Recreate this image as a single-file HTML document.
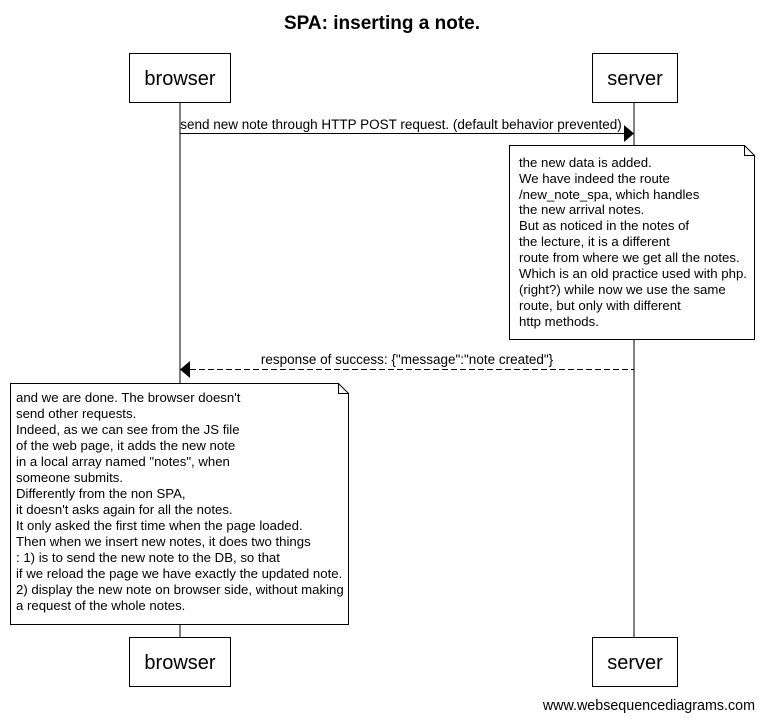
<!DOCTYPE html>
<html><head><style>body{margin:0;background:#fff}svg{display:block}text{font-family:"Liberation Sans",Arial,sans-serif;fill:#000}</style></head>
<body>
<svg width="764" height="720" viewBox="0 0 764 720" xmlns="http://www.w3.org/2000/svg">
<text x="382" y="29" font-size="19" font-weight="bold" text-anchor="middle">SPA: inserting a note.</text>
<line x1="180" y1="102" x2="180" y2="637" stroke="#000"/>
<line x1="634" y1="102" x2="634" y2="637" stroke="#000"/>
<g fill="#fff" stroke="#000">
<rect x="129.5" y="53.5" width="101" height="49"/>
<rect x="592.5" y="53.5" width="85" height="49"/>
<rect x="129.5" y="637.5" width="101" height="49"/>
<rect x="592.5" y="637.5" width="85" height="49"/>
</g>
<g font-size="20" text-anchor="middle">
<text x="180" y="85">browser</text><text x="635" y="85">server</text>
<text x="180" y="669">browser</text><text x="635" y="669">server</text>
</g>
<line x1="180" y1="133.5" x2="624" y2="133.5" stroke="#000"/>
<polygon points="624,125 634,133.5 624,142" fill="#000"/>
<text x="401" y="129" font-size="13.5" text-anchor="middle">send new note through HTTP POST request. (default behavior prevented)</text>
<path d="M509.5 145.5 H744.5 L754.5 155.5 V339.5 H509.5 Z" fill="#fff" stroke="#000"/>
<path d="M744.5 145.5 V155.5 H754.5" fill="none" stroke="#000"/>
<g font-size="13.2">
<text x="519" y="167">the new data is added.</text>
<text x="519" y="183">We have indeed the route</text>
<text x="519" y="199">/new_note_spa, which handles</text>
<text x="519" y="214">the new arrival notes.</text>
<text x="519" y="230">But as noticed in the notes of</text>
<text x="519" y="246">the lecture, it is a different</text>
<text x="519" y="262">route from where we get all the notes.</text>
<text x="519" y="278">Which is an old practice used with php.</text>
<text x="519" y="294">(right?) while now we use the same</text>
<text x="519" y="310">route, but only with different</text>
<text x="519" y="326">http methods.</text>
</g>
<line x1="190" y1="369.5" x2="634" y2="369.5" stroke="#000" stroke-dasharray="6,3"/>
<polygon points="190,361 180,369.5 190,378" fill="#000"/>
<text x="407" y="364" font-size="13.5" text-anchor="middle">response of success: {"message":"note created"}</text>
<path d="M10.5 383.5 H338.5 L348.5 393.5 V624.5 H10.5 Z" fill="#fff" stroke="#000"/>
<path d="M338.5 383.5 V393.5 H348.5" fill="none" stroke="#000"/>
<g font-size="13.2">
<text x="16" y="402">and we are done. The browser doesn't</text>
<text x="16" y="418">send other requests.</text>
<text x="16" y="434">Indeed, as we can see from the JS file</text>
<text x="16" y="450">of the web page, it adds the new note</text>
<text x="16" y="466">in a local array named "notes", when</text>
<text x="16" y="482">someone submits.</text>
<text x="16" y="498">Differently from the non SPA,</text>
<text x="16" y="514">it doesn't asks again for all the notes.</text>
<text x="16" y="530">It only asked the first time when the page loaded.</text>
<text x="16" y="546">Then when we insert new notes, it does two things</text>
<text x="16" y="562">: 1) is to send the new note to the DB, so that</text>
<text x="16" y="578">if we reload the page we have exactly the updated note.</text>
<text x="16" y="594">2) display the new note on browser side, without making</text>
<text x="16" y="610">a request of the whole notes.</text>
</g>
<text x="755" y="710" font-size="14.3" text-anchor="end">www.websequencediagrams.com</text>
</svg>
</body></html>
